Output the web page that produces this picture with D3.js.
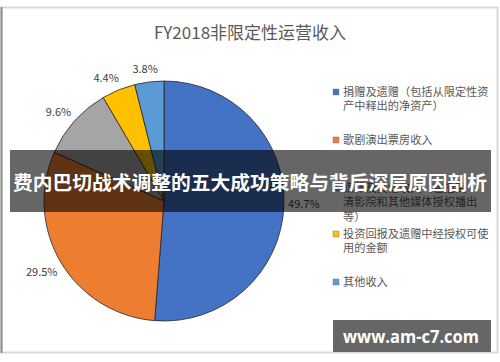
<!DOCTYPE html>
<html>
<head>
<meta charset="utf-8">
<script src="https://cdn.jsdelivr.net/npm/d3@7"></script>
<style>
  html, body { margin: 0; padding: 0; background: #fff; }
  svg { display: block; font-family: "Noto Sans CJK SC", "Noto Sans", sans-serif; }
</style>
</head>
<body>
<div id="chart"></div>
<script>
'use strict';

// data
var categories = ['捐赠及遗赠', '歌剧演出票房收入', '媒体收入', '投资回报及遗赠', '其他收入'];
var values = [49.7, 29.5, 9.6, 4.4, 3.8];
var pctLabels = ['49.7%', '29.5%', '9.6%', '4.4%', '3.8%'];
var legendLines = [
  ['捐赠及遗赠（包括从限定性资', '产中释出的净资产）'],
  ['歌剧演出票房收入'],
  ['媒体及其他收入（包括高', '清影院和其他媒体授权播出', '等）'],
  ['投资回报及遗赠中经授权可使', '用的金额'],
  ['其他收入']
];
var colors = ['#4472C4', '#ED7D31', '#A5A5A5', '#FFC000', '#5B9BD5'];
var title = 'FY2018非限定性运营收入';
var bannerText = '费内巴切战术调整的五大成功策略与背后深层原因剖析';
var watermark = 'www.am-c7.com';

var width = 500, height = 362;

var svg = d3.select('#chart').append('svg')
  .attr('width', width)
  .attr('height', height);

// frame
svg.append('rect')
  .attr('x', 1.5).attr('y', 7.5)
  .attr('width', 496).attr('height', 345)
  .attr('fill', '#fff')
  .attr('stroke', '#d9d9d9')
  .attr('stroke-width', 2);
svg.append('line')
  .attr('x1', 1.5).attr('x2', 1.5)
  .attr('y1', 7).attr('y2', 353)
  .attr('stroke', '#8c8c8c')
  .attr('stroke-width', 2);

svg.append('text')
  .attr('x', 250).attr('y', 39)
  .attr('text-anchor', 'middle')
  .attr('font-size', 17)
  .attr('fill', '#595959')
  .text(title);

// pie
var cx = 164, cy = 201, radius = 120;

var pie = d3.pie().sort(null).value(function(d) { return d; });
var arc = d3.arc().innerRadius(0).outerRadius(radius);
var arcs = pie(values);

var chart = svg.append('g')
  .attr('transform', 'translate(' + cx + ',' + cy + ')');

chart.selectAll('path')
  .data(arcs)
  .enter().append('path')
    .attr('d', arc)
    .attr('fill', function(d, i) { return colors[i]; })
    .attr('stroke', '#262626')
    .attr('stroke-width', 0.8);

// data labels sit outside the pie (Excel best fit)
var labelPos = [
  [143, 0], [-127, 73], [-109, -86], [-64, -119], [-21, -127]
];
var labelArc = d3.arc().innerRadius(radius * 1.14).outerRadius(radius * 1.14);
chart.selectAll('.lbl')
  .data(arcs)
  .enter().append('text')
    .attr('class', 'lbl')
    .attr('transform', function(d, i) {
      var c = labelArc.centroid(d);
      // nudge toward read positions
      var p = labelPos[i];
      return 'translate(' + ((c[0] + p[0]) / 2) + ',' + ((c[1] + p[1]) / 2) + ')';
    })
    .attr('text-anchor', 'middle')
    .attr('dy', '0.35em')
    .attr('font-size', 11)
    .attr('fill', '#404040')
    .text(function(d, i) { return pctLabels[i]; });

// legend
var legendTop = [92, 140, 188, 234, 282];
var lineH = 14.5;
var legend = svg.append('g');
var item = legend.selectAll('g')
  .data(categories)
  .enter().append('g')
    .attr('transform', function(d, i) { return 'translate(333,' + legendTop[i] + ')'; });

item.append('rect')
  .attr('x', 0).attr('y', -3)
  .attr('width', 6).attr('height', 6)
  .attr('fill', function(d, i) { return colors[i]; })
  .attr('stroke', '#7f7f7f')
  .attr('stroke-width', 0.5);

item.append('text')
  .attr('font-size', 11.2)
  .attr('fill', '#595959')
  .selectAll('tspan')
  .data(function(d, i) { return legendLines[i]; })
  .enter().append('tspan')
    .attr('x', 10)
    .attr('y', function(d, j) { return j * lineH; })
    .attr('dy', '0.35em')
    .text(function(d) { return d; });

// overlay banner
svg.append('rect')
  .attr('x', 10).attr('y', 150)
  .attr('width', 481).attr('height', 62)
  .attr('fill', '#000')
  .attr('fill-opacity', 0.6);
svg.append('text')
  .attr('x', 250).attr('y', 183)
  .attr('text-anchor', 'middle')
  .attr('dy', '0.35em')
  .attr('font-size', 19.6)
  .attr('font-weight', 'bold')
  .attr('textLength', 474)
  .attr('lengthAdjust', 'spacingAndGlyphs')
  .attr('fill', '#fff')
  .text(bannerText);

// watermark
svg.append('rect')
  .attr('x', 333).attr('y', 320)
  .attr('width', 158).attr('height', 32)
  .attr('fill', '#666');
svg.append('text')
  .attr('x', 411).attr('y', 337)
  .attr('text-anchor', 'middle')
  .attr('dy', '0.35em')
  .attr('font-size', 17)
  .attr('font-weight', 'bold')
  .attr('font-family', '"Open Sans", "DejaVu Sans", sans-serif')
  .attr('textLength', 136)
  .attr('lengthAdjust', 'spacingAndGlyphs')
  .attr('fill', '#fff')
  .text(watermark);
</script>
</body>
</html>
